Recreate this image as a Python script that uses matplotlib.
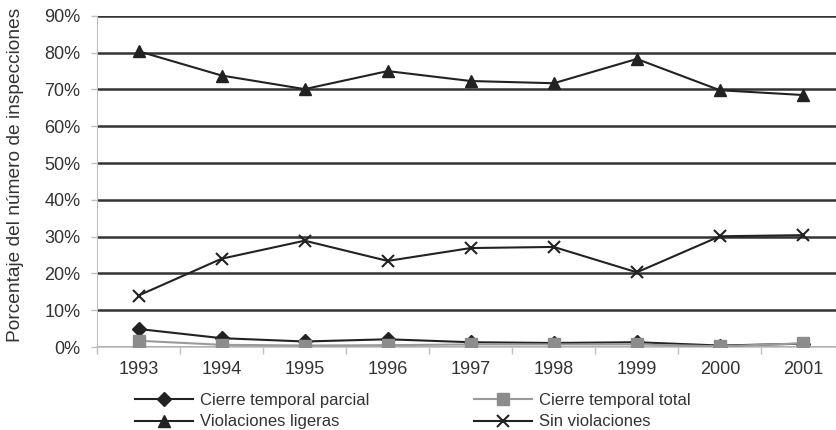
import matplotlib.pyplot as plt
from matplotlib.ticker import FuncFormatter, MultipleLocator

plt.rcParams["font.family"] = ["Liberation Sans", "DejaVu Sans"]

years = ["1993", "1994", "1995", "1996", "1997", "1998", "1999", "2000", "2001"]
cierre_parcial = [4.9, 2.4, 1.5, 2.1, 1.3, 1.1, 1.3, 0.4, 0.9]
cierre_total = [1.7, 0.6, 0.4, 0.5, 0.7, 0.7, 0.7, 0.2, 1.0]
violaciones_ligeras = [80.4, 73.8, 70.1, 75.0, 72.3, 71.7, 78.3, 69.8, 68.5]
sin_violaciones = [14.0, 24.0, 28.9, 23.4, 26.9, 27.2, 20.3, 30.1, 30.4]

text_color = "#333333"
line_color = "#222222"

fig = plt.figure(figsize=(8.37, 4.30), dpi=100)
ax = fig.add_axes([0.1159, 0.193, 0.893, 0.770])

x = list(range(len(years)))

l1, = ax.plot(x, cierre_parcial, color=line_color, lw=1.5, marker="D",
              markersize=7, label="Cierre temporal parcial", zorder=4)
l2, = ax.plot(x, cierre_total, color="#9a9a9a", lw=1.5, marker="s",
              markersize=9, markerfacecolor="#8c8c8c", markeredgecolor="#8c8c8c",
              label="Cierre temporal total", zorder=4)
l3, = ax.plot(x, violaciones_ligeras, color=line_color, lw=1.5, marker="^",
              markersize=9, label="Violaciones ligeras", zorder=4)
l4, = ax.plot(x, sin_violaciones, color=line_color, lw=1.5, marker="x",
              markersize=9, markeredgewidth=1.5, label="Sin violaciones", zorder=4)

ax.set_xlim(-0.5, len(years) - 0.5)
ax.set_ylim(0, 90)
ax.yaxis.set_major_locator(MultipleLocator(10))
ax.yaxis.set_major_formatter(FuncFormatter(lambda v, p: f"{v:.0f}%"))

ax.set_xticks(x)
ax.set_xticklabels(years)
ax.set_xticks([i - 0.5 for i in range(len(years) + 1)], minor=True)
ax.tick_params(axis="x", which="major", length=0, pad=10, labelsize=13,
               labelcolor=text_color)
ax.tick_params(axis="x", which="minor", length=5, color="#c0c0c0", width=1)
ax.tick_params(axis="y", length=4, color="#c0c0c0", width=1, pad=8,
               labelsize=13, labelcolor=text_color)

ax.grid(axis="y", color="#333333", lw=1.8, zorder=1)
ax.set_axisbelow(True)
gl = ax.get_ygridlines()
gl[0].set_visible(False)
gl[-1].set_color("#c8c8c8")
gl[-1].set_linewidth(1.2)

for side in ["top", "right"]:
    ax.spines[side].set_visible(False)
ax.spines["left"].set_color("#c0c0c0")
ax.spines["bottom"].set_color("#c0c0c0")
ax.spines["bottom"].set_linewidth(1.2)

ax.set_ylabel("Porcentaje del número de inspecciones", fontsize=13.8,
              color=text_color)
ax.yaxis.set_label_coords(-0.0977, 0.52)

fig.legend(handles=[l1, l3, l2, l4], ncol=2, loc="upper left",
           bbox_to_anchor=(0.153, 0.102), frameon=False, fontsize=12,
           handlelength=3.5, columnspacing=6.3, labelspacing=0.4,
           handletextpad=0.4, labelcolor=text_color, borderaxespad=0)

fig.savefig("out.png", dpi=100)
